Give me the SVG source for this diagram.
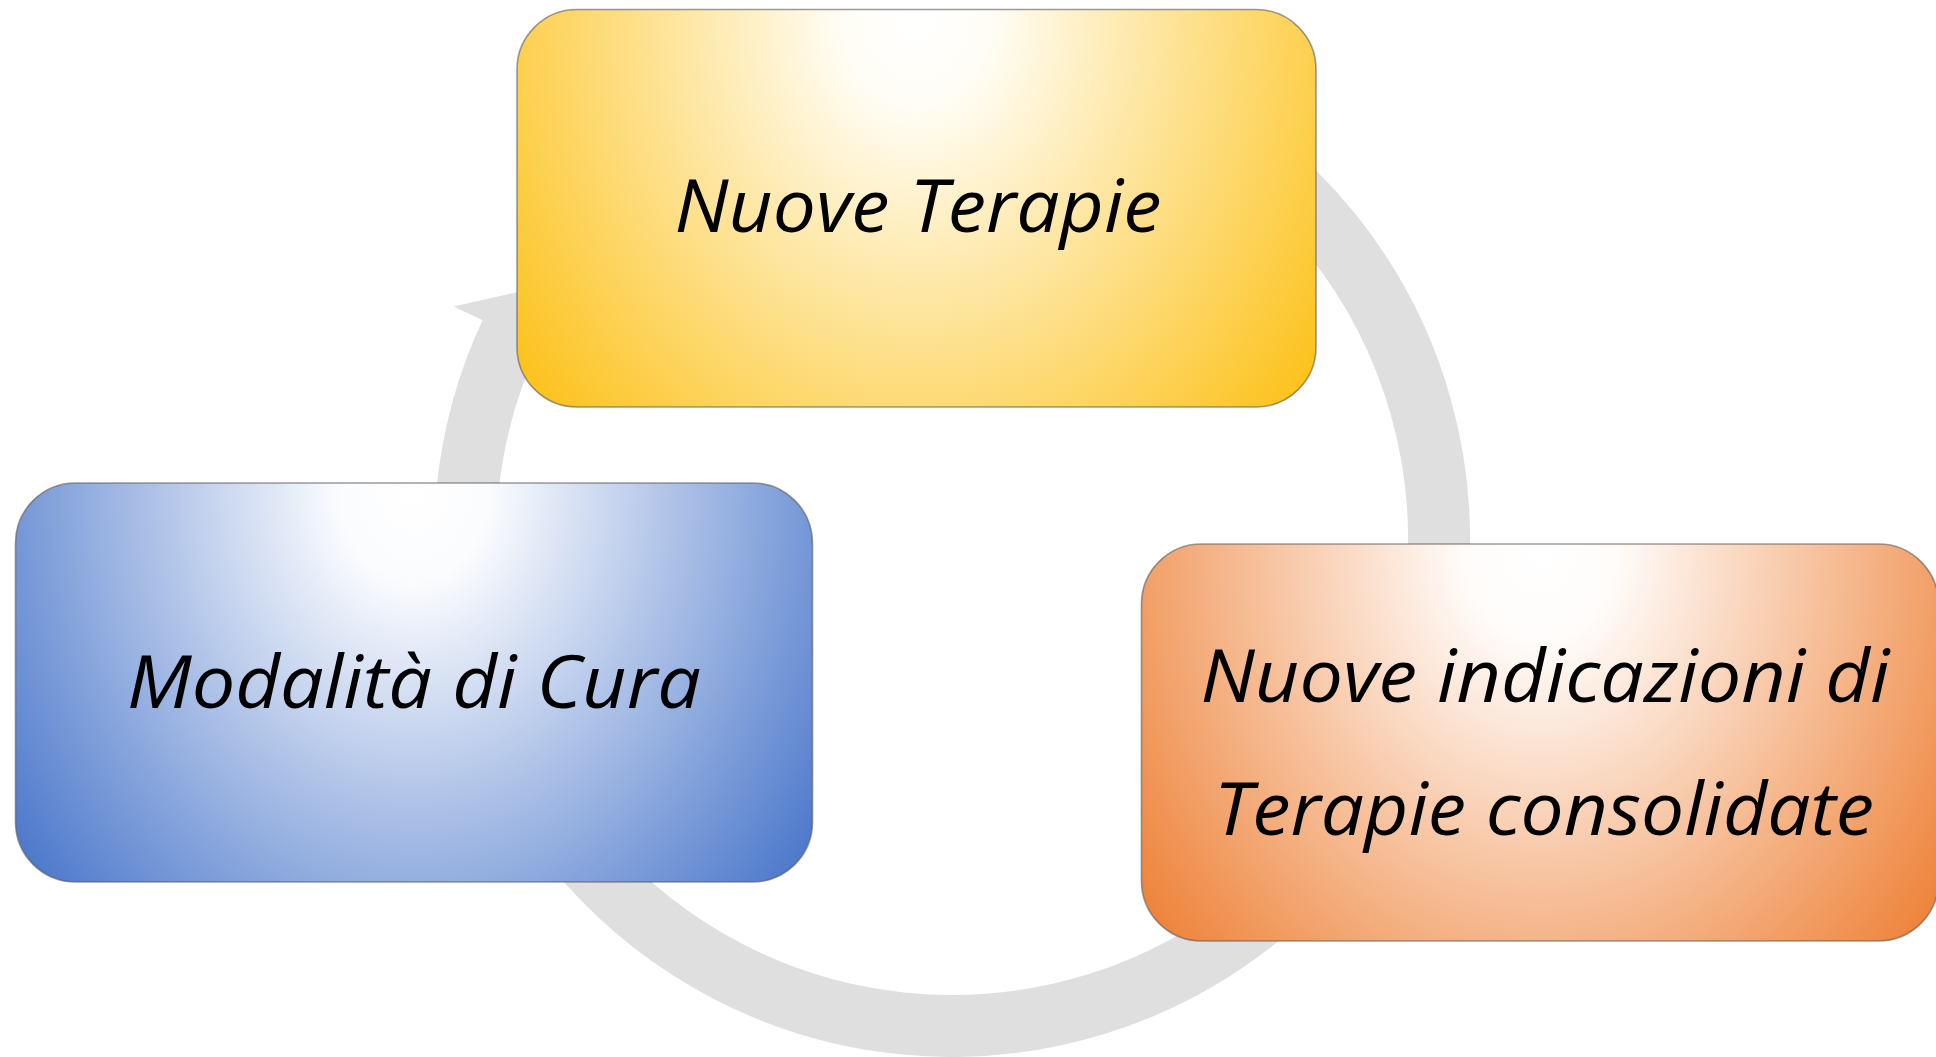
<svg xmlns="http://www.w3.org/2000/svg" width="1936" height="1057" viewBox="0 0 1936 1057">
<style>
.box{stroke:#5a5a5a;stroke-opacity:0.6;stroke-width:1.6}
.lbl{font-family:"Open Sans","Noto Sans","Liberation Sans",sans-serif;font-style:italic;font-size:73px;fill:#000;text-anchor:middle}
.ring{fill:none;stroke:#dfdfdf;stroke-width:62}
</style>
<defs>
<radialGradient id="gY" cx="0.5" cy="0.02" r="1" gradientTransform="translate(0.5,0.02) scale(0.62,1.5) translate(-0.5,-0.02)">
<stop offset="0" stop-color="#ffffff"/>
<stop offset="0.15" stop-color="#fffdf5"/>
<stop offset="1" stop-color="#fcc21c"/>
</radialGradient>
<radialGradient id="gB" cx="0.5" cy="0.02" r="1" gradientTransform="translate(0.5,0.02) scale(0.62,1.5) translate(-0.5,-0.02)">
<stop offset="0" stop-color="#ffffff"/>
<stop offset="0.15" stop-color="#fbfcfe"/>
<stop offset="1" stop-color="#4d79cb"/>
</radialGradient>
<radialGradient id="gO" cx="0.5" cy="0.02" r="1" gradientTransform="translate(0.5,0.02) scale(0.62,1.5) translate(-0.5,-0.02)">
<stop offset="0" stop-color="#ffffff"/>
<stop offset="0.15" stop-color="#fffcfa"/>
<stop offset="1" stop-color="#ee833a"/>
</radialGradient>
</defs>
<rect width="1936" height="1057" fill="#ffffff"/>
<g id="connectors">
<path class="ring" d="M 1195.5 117.2 A 487 487 0 1 1 514.3 325.5"/>
<polygon points="453.5,306.6 534.6,288.2 567.7,359.8" fill="#dfdfdf"/>
</g>
<g id="node-nuove-terapie">
<rect class="box" x="517" y="9.5" width="799" height="397.5" rx="60" ry="60" fill="url(#gY)"/>
<text class="lbl" x="918" y="232" textLength="487" lengthAdjust="spacingAndGlyphs">Nuove Terapie</text>
</g>
<g id="node-modalita">
<rect class="box" x="15.5" y="483" width="797" height="399" rx="60" ry="60" fill="url(#gB)"/>
<text class="lbl" x="414" y="708" textLength="574" lengthAdjust="spacingAndGlyphs">Modalità di Cura</text>
</g>
<g id="node-nuove-indicazioni">
<rect class="box" x="1141.5" y="544" width="797" height="397" rx="60" ry="60" fill="url(#gO)"/>
<text class="lbl" x="1545" y="702" textLength="689" lengthAdjust="spacingAndGlyphs">Nuove indicazioni di</text>
<text class="lbl" x="1544" y="835" textLength="660" lengthAdjust="spacingAndGlyphs">Terapie consolidate</text>
</g>
</svg>
